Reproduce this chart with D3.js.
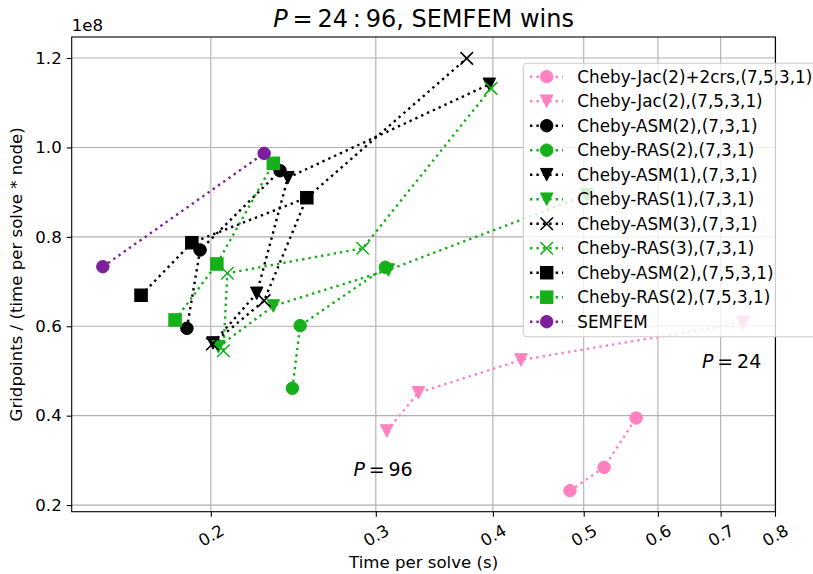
<!DOCTYPE html>
<html><head><meta charset="utf-8">
<script src="https://cdn.jsdelivr.net/npm/d3@7"></script>
<style>body{margin:0;background:#fff} text{font-family:"DejaVu Sans",sans-serif;fill:#000}</style>
</head><body><svg id="c" width="813" height="574"></svg>
<script>
// ---------------- data ----------------
const legendLabels = [
  "Cheby-Jac(2)+2crs,(7,5,3,1)",
  "Cheby-Jac(2),(7,5,3,1)",
  "Cheby-ASM(2),(7,3,1)",
  "Cheby-RAS(2),(7,3,1)",
  "Cheby-ASM(1),(7,3,1)",
  "Cheby-RAS(1),(7,3,1)",
  "Cheby-ASM(3),(7,3,1)",
  "Cheby-RAS(3),(7,3,1)",
  "Cheby-ASM(2),(7,5,3,1)",
  "Cheby-RAS(2),(7,5,3,1)",
  "SEMFEM"
];
const timeJacCrs = [0.4834, 0.5257, 0.5687];
const gridJacCrs = [2.322e7, 2.845e7, 3.948e7];
const timeJac = [0.3082, 0.3331, 0.4286, 0.7400];
const gridJac = [3.657e7, 4.514e7, 5.245e7, 6.080e7];
const timeAsm2 = [0.1886, 0.1948, 0.2371];
const gridAsm2 = [5.954e7, 7.706e7, 9.479e7];
const timeRas2 = [0.2444, 0.2491, 0.3071];
const gridRas2 = [4.612e7, 6.013e7, 7.319e7];
const timeAsm1 = [0.2011, 0.2239, 0.2417, 0.3965];
const gridAsm1 = [5.626e7, 6.737e7, 9.323e7, 11.412e7];
const timeRas1 = [0.2038, 0.2332, 0.3094, 0.5036];
const gridRas1 = [5.543e7, 6.453e7, 7.258e7, 8.936e7];
const timeAsm3 = [0.2008, 0.2280, 0.2532, 0.3751];
const gridAsm3 = [5.603e7, 6.572e7, 8.875e7, 11.993e7];
const timeRas3 = [0.2063, 0.2083, 0.2905, 0.3982];
const gridRas3 = [5.453e7, 7.185e7, 7.744e7, 11.322e7];
const timeAsm2b = [0.1685, 0.1909, 0.2532];
const gridAsm2b = [6.693e7, 7.869e7, 8.875e7];
const timeRas2b = [0.1832, 0.2030, 0.2332];
const gridRas2b = [6.140e7, 7.393e7, 9.645e7];
const timeSemfem = [0.1534, 0.2280];
const gridSemfem = [7.332e7, 9.868e7];
const xTicks = [0.2, 0.3, 0.4, 0.5, 0.6, 0.7, 0.8];
const yTicks = [0.2e8, 0.4e8, 0.6e8, 0.8e8, 1.0e8, 1.2e8];
const annotations = [{p: "96", t: 0.3054, g: 2.65e7}, {p: "24", t: 0.7192, g: 5.07e7}];

// ---------------- styles ----------------
const PINK = "#ff81c0", GREEN = "#15b01a", BLACK = "#000000", PURPLE = "#7e1e9c";
const series = [
  {t: timeJacCrs, g: gridJacCrs, c: PINK, m: "o"},
  {t: timeJac, g: gridJac, c: PINK, m: "v"},
  {t: timeAsm2, g: gridAsm2, c: BLACK, m: "o"},
  {t: timeRas2, g: gridRas2, c: GREEN, m: "o"},
  {t: timeAsm1, g: gridAsm1, c: BLACK, m: "v"},
  {t: timeRas1, g: gridRas1, c: GREEN, m: "v"},
  {t: timeAsm3, g: gridAsm3, c: BLACK, m: "x"},
  {t: timeRas3, g: gridRas3, c: GREEN, m: "x"},
  {t: timeAsm2b, g: gridAsm2b, c: BLACK, m: "s"},
  {t: timeRas2b, g: gridRas2b, c: GREEN, m: "s"},
  {t: timeSemfem, g: gridSemfem, c: PURPLE, m: "o"}
].map((s, i) => ({...s, label: legendLabels[i]}));

const svg = d3.select("#c");
const L = 71.7, R = 775.5, T = 37, B = 511.7;
const x = d3.scaleLog().domain([0.1421, 0.801]).range([L, R]);
const y = d3.scaleLinear().domain([0.1852e8, 1.247e8]).range([B, T]);

// grid
const grid = svg.append("g");
xTicks.forEach(v => grid.append("line").attr("x1", x(v)).attr("x2", x(v)).attr("y1", T).attr("y2", B)
  .attr("stroke", "#b0b0b0").attr("stroke-width", 1.1));
yTicks.forEach(v => grid.append("line").attr("x1", L).attr("x2", R).attr("y1", y(v)).attr("y2", y(v))
  .attr("stroke", "#b0b0b0").attr("stroke-width", 1.1));

// axes
const xAx = svg.append("g").attr("transform", `translate(0,${B})`)
  .call(d3.axisBottom(x).tickValues(xTicks).tickFormat(d3.format(".1f")).tickSize(5).tickSizeOuter(0));
xAx.select(".domain").remove();
xAx.selectAll("line").attr("stroke", "#000").attr("stroke-width", 1.1);
xAx.selectAll("text").attr("font-size", "16.6px").attr("font-family", "DejaVu Sans")
  .attr("y", 0).attr("dy", null).attr("text-anchor", "middle").attr("dominant-baseline", "central")
  .attr("transform", "translate(0,24) rotate(-30)");

const yAx = svg.append("g").attr("transform", `translate(${L},0)`)
  .call(d3.axisLeft(y).tickValues(yTicks).tickFormat(d => (d / 1e8).toFixed(1)).tickSize(5).tickSizeOuter(0).tickPadding(5));
yAx.select(".domain").remove();
yAx.selectAll("line").attr("stroke", "#000").attr("stroke-width", 1.1);
yAx.selectAll("text").attr("font-size", "16.6px").attr("font-family", "DejaVu Sans");

// markers
function marker(g, m, c, cx, cy) {
  const h = 6.25;
  if (m === "o") g.append("circle").attr("cx", cx).attr("cy", cy).attr("r", h).attr("fill", c).attr("stroke", c).attr("stroke-width", 1);
  else if (m === "v") g.append("path").attr("d", `M${cx - h},${cy - h}L${cx + h},${cy - h}L${cx},${cy + h}Z`).attr("fill", c).attr("stroke", c).attr("stroke-width", 1);
  else if (m === "s") g.append("rect").attr("x", cx - h).attr("y", cy - h).attr("width", 2 * h).attr("height", 2 * h).attr("fill", c).attr("stroke", c).attr("stroke-width", 1);
  else if (m === "x") g.append("path").attr("d", `M${cx - h},${cy - h}L${cx + h},${cy + h}M${cx - h},${cy + h}L${cx + h},${cy - h}`).attr("stroke", c).attr("stroke-width", 1.6).attr("fill", "none");
}

const plot = svg.append("g");
const line = d3.line().x(d => x(d[0])).y(d => y(d[1]));
series.forEach(s => {
  const pts = s.t.map((t, i) => [t, s.g[i]]);
  plot.append("path").attr("d", line(pts)).attr("fill", "none").attr("stroke", s.c)
    .attr("stroke-width", 2.4).attr("stroke-dasharray", "2.4,4.0");
  pts.forEach(p => marker(plot, s.m, s.c, x(p[0]), y(p[1])));
});

// annotations
annotations.forEach(a => {
  const t = svg.append("text").attr("x", x(a.t)).attr("y", y(a.g)).attr("text-anchor", "middle").attr("font-size", "19px");
  t.append("tspan").attr("font-style", "italic").text("P");
  t.append("tspan").text("\u2009=\u2009" + a.p);
});

// spines
svg.append("rect").attr("x", L).attr("y", T).attr("width", R - L).attr("height", B - T)
  .attr("fill", "none").attr("stroke", "#000").attr("stroke-width", 1.1);

// offset text
svg.append("text").attr("x", L).attr("y", 31).attr("font-size", "16.6px").text("1e8");

// title
const ti = svg.append("text").attr("x", (L + R) / 2).attr("y", 27).attr("text-anchor", "middle").attr("font-size", "24px");
ti.append("tspan").attr("font-style", "italic").text("P");
ti.append("tspan").text("\u2009=\u200924\u2009:\u200996, SEMFEM wins");

// axis labels
svg.append("text").attr("x", (L + R) / 2).attr("y", 568).attr("text-anchor", "middle").attr("font-size", "16.6px").text("Time per solve (s)");
svg.append("text").attr("transform", `translate(22,${(T + B) / 2}) rotate(-90)`).attr("text-anchor", "middle").attr("font-size", "16.6px")
  .text("Gridpoints / (time per solve * node)");

// legend
const lg = svg.append("g");
lg.append("rect").attr("x", 523.3).attr("y", 63.3).attr("width", 330).attr("height", 273.4).attr("rx", 4)
  .attr("fill", "#fff").attr("fill-opacity", 0.8).attr("stroke", "#cccccc").attr("stroke-width", 1.1);
series.forEach((s, i) => {
  const yy = 76.7 + i * 24.5;
  lg.append("line").attr("x1", 530).attr("x2", 563).attr("y1", yy).attr("y2", yy).attr("stroke", s.c)
    .attr("stroke-width", 2.4).attr("stroke-dasharray", "2.4,4.0");
  marker(lg, s.m, s.c, 546.7, yy);
  lg.append("text").attr("x", 577.3).attr("y", yy + 6).attr("font-size", "16.8px").text(s.label);
});
</script></body></html>
